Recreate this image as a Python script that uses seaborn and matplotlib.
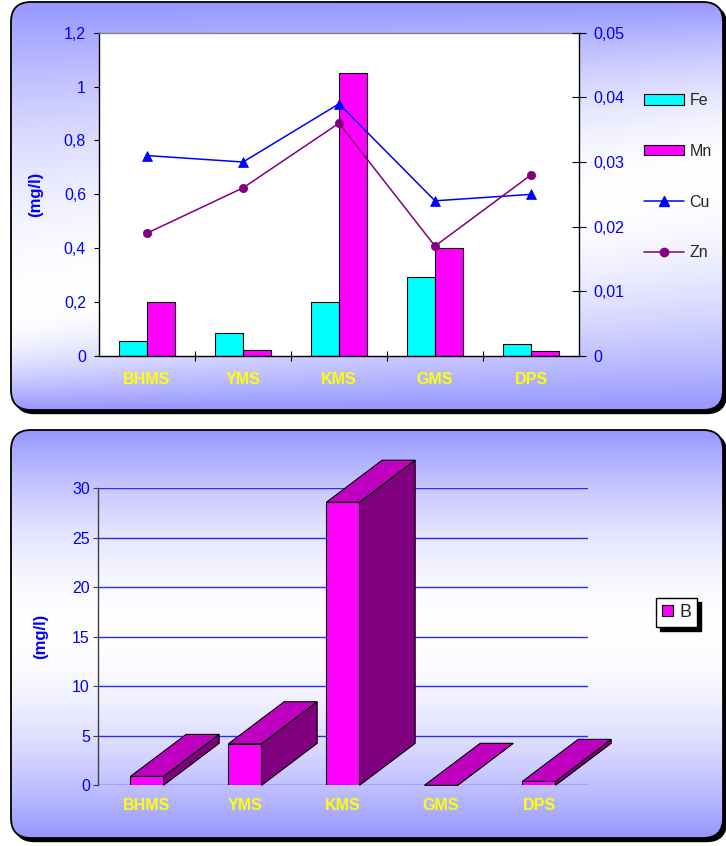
import numpy as np
import pandas as pd
import matplotlib
matplotlib.use("Agg")
import matplotlib.pyplot as plt
import seaborn as sns
from matplotlib.patches import FancyBboxPatch, Polygon, Patch
from matplotlib.lines import Line2D
from matplotlib.ticker import FuncFormatter

# ---- data -------------------------------------------------------------
sites = ["BHMS", "YMS", "KMS", "GMS", "DPS"]
fe = [0.057, 0.084, 0.20, 0.295, 0.044]
mn = [0.20, 0.023, 1.05, 0.40, 0.017]
cu = [0.031, 0.030, 0.039, 0.024, 0.025]
zn = [0.019, 0.026, 0.036, 0.017, 0.028]
boron = [0.9, 4.2, 28.6, 0.0, 0.4]

left_ticks = [0, 0.2, 0.4, 0.6, 0.8, 1.0, 1.2]
right_ticks = [0, 0.01, 0.02, 0.03, 0.04, 0.05]
b_ticks = [0, 5, 10, 15, 20, 25, 30]
unit_label = "(mg/l)"

# ---- style ------------------------------------------------------------
W, H, DPI = 726, 846, 100
sns.set_theme(style="white")
plt.rcParams["font.family"] = ["Liberation Sans", "DejaVu Sans"]

BLUE_TXT = "#0000FF"
YELLOW = "#FFFF00"
CYAN = "#00FFFF"
MAGENTA = "#FF00FF"
PURPLE = "#800080"
TOP_FACE = "#C000C0"
PANEL_BLUE = np.array([150, 150, 255]) / 255.0
FS = 11.5

fig = plt.figure(figsize=(W / DPI, H / DPI), dpi=DPI)
fig.patch.set_facecolor("white")

# background layer in pixel coordinates for the rounded gradient panels
bg = fig.add_axes([0, 0, 1, 1], zorder=-10)
bg.axis("off")


def panel(x0, y0, x1, y1, white_line, r=20):
    style = f"round,pad=0,rounding_size={r}"
    shadow = FancyBboxPatch((x0 + 3.5, y0 + 3.5), x1 - x0, y1 - y0,
                            boxstyle=style, fc="black", ec="black", lw=1, zorder=1)
    bg.add_patch(shadow)
    xs = np.linspace(x0, x1, 360)
    ys = np.linspace(y0, y1, 360)
    X, Y = np.meshgrid(xs, ys)
    yw = white_line(X)
    t = np.where(Y < yw, (yw - Y) / (yw - y0), (Y - yw) / (y1 - yw))
    t = np.clip(t, 0, 1) ** 1.8
    img = (1 - t[..., None]) * 1.0 + t[..., None] * PANEL_BLUE
    im = bg.imshow(img, extent=(x0, x1, y1, y0), zorder=2,
                   interpolation="bilinear", aspect="auto")
    clip = FancyBboxPatch((x0, y0), x1 - x0, y1 - y0, boxstyle=style,
                          fc="none", ec="none", transform=bg.transData)
    bg.add_patch(clip)
    im.set_clip_path(clip)
    frame = FancyBboxPatch((x0, y0), x1 - x0, y1 - y0, boxstyle=style,
                           fc="none", ec="black", lw=1.3, zorder=3)
    bg.add_patch(frame)


panel(11, 2, 723, 410, lambda x: 314 - 0.2 * (x - 11))
panel(11, 430, 723, 838, lambda x: 628 + 0 * x)
bg.set_xlim(0, W)
bg.set_ylim(H, 0)

comma = FuncFormatter(lambda v, pos: f"{v:g}".replace(".", ","))

# ---- upper chart: Fe / Mn bars with Cu / Zn lines ---------------------
ax1 = fig.add_axes([99 / W, 1 - 356 / H, 480 / W, (356 - 32.7) / H])
ax1.set_facecolor("white")
bars_df = pd.DataFrame({
    "site": sites * 2,
    "metal": ["Fe"] * len(sites) + ["Mn"] * len(sites),
    "value": fe + mn,
})
sns.barplot(data=bars_df, x="site", y="value", hue="metal", order=sites,
            hue_order=["Fe", "Mn"], palette=[CYAN, MAGENTA], saturation=1,
            width=0.58, edgecolor="black", linewidth=0.8, errorbar=None,
            legend=False, ax=ax1)
ax1.set_xlim(-0.5, len(sites) - 0.5)
ax1.set_ylim(0, 1.2)
ax1.set_yticks(left_ticks)
ax1.yaxis.set_major_formatter(comma)
ax1.tick_params(axis="y", which="major", left=True, direction="out", length=3.3,
                width=0.8, color="black", labelcolor=BLUE_TXT, labelsize=FS, pad=6)
# category separators as major ticks, names as minor ticks
ax1.set_xticks(np.arange(0.5, len(sites) - 0.5, 1.0))
ax1.set_xticklabels([])
ax1.set_xticks(np.arange(len(sites)), sites, minor=True)
ax1.tick_params(axis="x", which="major", bottom=True, direction="inout", length=7,
                width=0.8, color="black")
ax1.tick_params(axis="x", which="minor", bottom=True, length=0, pad=11.5,
                labelsize=FS, labelcolor=YELLOW)
for lab in ax1.get_xticklabels(minor=True):
    lab.set_fontweight("bold")
ax1.set_xlabel("")
ax1.set_ylabel(unit_label, color=BLUE_TXT, fontsize=12, fontweight="bold")
ax1.yaxis.set_label_coords(-56 / 480, 0.5)
for side in ("left", "bottom"):
    ax1.spines[side].set_color("black")
    ax1.spines[side].set_linewidth(1.0)
ax1.spines["top"].set_color("#808080")
ax1.spines["top"].set_linewidth(1.0)
ax1.spines["right"].set_visible(False)

ax2 = ax1.twinx()
lines_df = pd.DataFrame({
    "site": sites * 2,
    "metal": ["Cu"] * len(sites) + ["Zn"] * len(sites),
    "value": cu + zn,
})
sns.pointplot(data=lines_df, x="site", y="value", hue="metal", order=sites,
              hue_order=["Cu", "Zn"], palette=[BLUE_TXT, PURPLE],
              markers=["^", "o"], linestyles=["-", "-"], errorbar=None,
              legend=False, ax=ax2, linewidth=1.1, markersize=7,
              markeredgewidth=0.5)
for ln in ax2.lines:
    if ln.get_marker() == "o":
        ln.set_markersize(6)
ax2.set_xlim(-0.5, len(sites) - 0.5)
ax2.set_ylim(0, 0.05)
ax2.set_yticks(right_ticks)
ax2.yaxis.set_major_formatter(comma)
ax2.tick_params(axis="y", right=True, direction="inout", length=9.4, width=0.8,
                color="black", labelcolor=BLUE_TXT, labelsize=FS, pad=5.5)
ax2.set_ylabel("")
ax2.set_xlabel("")
for side in ("left", "top", "bottom"):
    ax2.spines[side].set_visible(False)
ax2.spines["right"].set_color("black")
ax2.spines["right"].set_linewidth(1.0)

handles = [
    Patch(facecolor=CYAN, edgecolor="black", linewidth=0.8),
    Patch(facecolor=MAGENTA, edgecolor="black", linewidth=0.8),
    Line2D([], [], color=BLUE_TXT, marker="^", markersize=7, linewidth=1.1),
    Line2D([], [], color=PURPLE, marker="o", markersize=6, linewidth=1.1),
]
fig.legend(handles, ["Fe", "Mn", "Cu", "Zn"], loc="upper left",
           bbox_to_anchor=(644 / W, 1 - 93 / H), frameon=False, fontsize=FS,
           borderpad=0, borderaxespad=0, labelspacing=2.24, handlelength=2.5,
           handleheight=0.62, handletextpad=0.35)

# ---- lower chart: boron as 3-D style columns --------------------------
ax3 = fig.add_axes([98 / W, 1 - 785.3 / H, 490 / W, 297 / H])
ax3.patch.set_visible(False)
sns.barplot(x=sites, y=boron, color=MAGENTA, saturation=1, width=0.337,
            edgecolor="black", linewidth=0.8, ax=ax3, zorder=3)
ax3.set_xlim(-0.5, len(sites) - 0.5)
ax3.set_ylim(0, 30)
ax3.set_yticks(b_ticks)
ax3.yaxis.grid(True, color="#2a2aff", linewidth=1.0)
ax3.set_axisbelow(True)

depth_x, depth_y = 0.568, 4.24
for bar in ax3.patches:
    x = bar.get_x()
    w = bar.get_width()
    h = bar.get_height()
    top = Polygon([(x, h), (x + w, h), (x + w + depth_x, h + depth_y),
                   (x + depth_x, h + depth_y)], closed=True, facecolor=TOP_FACE,
                  edgecolor="black", linewidth=0.8, zorder=3, clip_on=False)
    side = Polygon([(x + w, 0), (x + w, h), (x + w + depth_x, h + depth_y),
                    (x + w + depth_x, depth_y)], closed=True, facecolor=PURPLE,
                   edgecolor="black", linewidth=0.8, zorder=3, clip_on=False)
    ax3.add_patch(side)
    ax3.add_patch(top)

ax3.tick_params(axis="y", left=True, direction="out", length=3.6, width=0.8,
                color="#404040", labelcolor=BLUE_TXT, labelsize=FS, pad=2.2)
ax3.tick_params(axis="x", bottom=False, length=0, pad=9, labelsize=FS,
                labelcolor=YELLOW)
for lab in ax3.get_xticklabels():
    lab.set_fontweight("bold")
ax3.set_ylabel(unit_label, color=BLUE_TXT, fontsize=12, fontweight="bold")
ax3.yaxis.set_label_coords(-50 / 490, 0.5)
for side in ("top", "right", "bottom"):
    ax3.spines[side].set_visible(False)
ax3.spines["left"].set_color("#404040")
ax3.spines["left"].set_linewidth(1.0)

fig.legend([Patch(facecolor=MAGENTA, edgecolor="black", linewidth=0.8)], ["B"],
           loc="upper left", bbox_to_anchor=(656 / W, 1 - 598 / H),
           fontsize=13, fancybox=False, edgecolor="black", facecolor="white",
           framealpha=1, borderpad=0.33, borderaxespad=0, handlelength=0.62,
           handleheight=0.62, handletextpad=0.33,
           shadow={"ox": 3, "oy": -3, "shade": 1.0, "alpha": 1})

fig.savefig("out.png", dpi=DPI)
